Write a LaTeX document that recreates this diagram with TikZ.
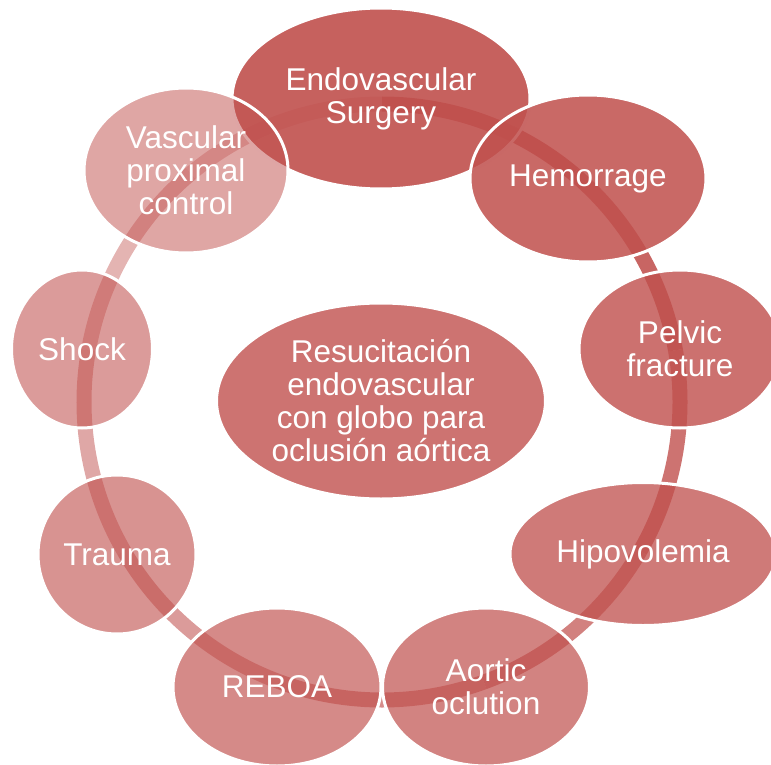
\documentclass[tikz,border=0pt]{standalone}
\usepackage{fontspec}
\setmainfont{Liberation Sans}
\usetikzlibrary{shapes.geometric}
\definecolor{BrickRed}{RGB}{192, 80, 77}
\newcommand{\cyclefont}{\fontsize{31.5}{33}\selectfont}

\begin{document}
\begin{tikzpicture}[x=1pt, y=-1pt,
    bubble/.style={ellipse, draw=white, line width=3pt, fill=BrickRed, text=white,
      text opacity=1, inner sep=-15pt, align=center, font=\cyclefont},
    ring/.style={draw=BrickRed, line width=15pt}]
    \clip (0,0) rectangle (771,765);
    \coordinate (hub) at (382,402);

    % Ring, fading clockwise
    \draw[ring, draw opacity=0.95] (hub) ++(-90:298) arc[start angle=-90, end angle=-50, radius=298];
    \draw[ring, draw opacity=0.88] (hub) ++(-50:298) arc[start angle=-50, end angle=-10, radius=298];
    \draw[ring, draw opacity=0.80] (hub) ++(-10:298) arc[start angle=-10, end angle=30, radius=298];
    \draw[ring, draw opacity=0.72] (hub) ++(30:298) arc[start angle=30, end angle=70, radius=298];
    \draw[ring, draw opacity=0.65] (hub) ++(70:298) arc[start angle=70, end angle=110, radius=298];
    \draw[ring, draw opacity=0.57] (hub) ++(110:298) arc[start angle=110, end angle=150, radius=298];
    \draw[ring, draw opacity=0.50] (hub) ++(150:298) arc[start angle=150, end angle=190, radius=298];
    \draw[ring, draw opacity=0.43] (hub) ++(190:298) arc[start angle=190, end angle=230, radius=298];
    \draw[ring, draw opacity=0.36] (hub) ++(230:298) arc[start angle=230, end angle=270, radius=298];

    % Bubbles round the ring
    \node[bubble, fill opacity=0.90, minimum width=298pt, minimum height=181pt] (surgery) at (381,98.5) {Endovascular\\Surgery};
    \node[bubble, fill opacity=0.86, minimum width=236pt, minimum height=167pt] (hemorrage) at (588,178.5) {Hemorrage};
    \node[bubble, fill opacity=0.81, minimum width=202pt, minimum height=158pt] (pelvic) at (680,349) {Pelvic\\fracture};
    \node[bubble, fill opacity=0.76, minimum width=266pt, minimum height=143pt] (hipovolemia) at (643,554) {Hipovolemia};
    \node[bubble, fill opacity=0.71, minimum width=207pt, minimum height=158pt] (aortic) at (486,687) {Aortic\\oclution};
    \node[bubble, fill opacity=0.67, minimum width=208pt, minimum height=158pt] (reboa) at (277,687) {REBOA};
    \node[bubble, fill opacity=0.62, minimum width=158pt, minimum height=159pt] (trauma) at (117,554.5) {Trauma};
    \node[bubble, fill opacity=0.57, minimum width=141pt, minimum height=158pt] (shock) at (82,349) {Shock};
    \node[bubble, fill opacity=0.51, minimum width=204pt, minimum height=165pt] (vascular) at (186,170.5) {Vascular\\proximal\\control};

    % Centre
    \node[bubble, fill opacity=0.80, minimum width=329pt, minimum height=196pt] (resucitacion) at (381,401)
      {Resucitación\\endovascular\\con globo para\\oclusión aórtica};
\end{tikzpicture}
\end{document}
